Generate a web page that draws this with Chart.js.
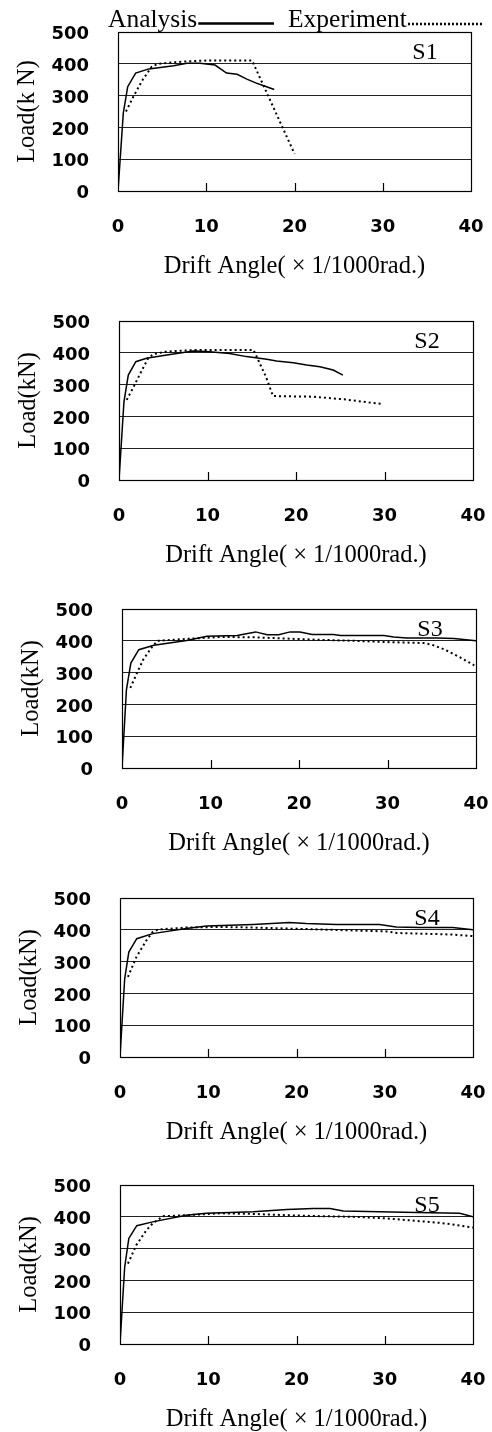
<!DOCTYPE html>
<html>
<head>
<meta charset="utf-8">
<script src="https://cdn.jsdelivr.net/npm/chart.js@4.4.1/dist/chart.umd.min.js"></script>
<style>
  html, body { margin: 0; padding: 0; background: #fff; overflow: hidden; }
  body { width: 492px; height: 1432px; position: relative; }
  .panel { position: absolute; left: 0; width: 492px; height: 280px; }
</style>
</head>
<body>
<script>
// ---- data ----
const specimens = ['S1', 'S2', 'S3', 'S4', 'S5'];
const loadTitles = ['Load(k N)', 'Load(kN)', 'Load(kN)', 'Load(kN)', 'Load(kN)'];
const driftTitle = 'Drift Angle( × 1/1000rad.)';
const seriesNames = ['Analysis', 'Experiment'];
const xTicks = [0, 10, 20, 30, 40];
const yTicks = [0, 100, 200, 300, 400, 500];

// [drift angle, load] pairs
const s1Analysis = [[0, 0], [0.6, 245], [1.1, 328], [2.0, 371], [3.5, 384], [6.3, 394], [7.8, 402], [9.3, 402], [11.0, 396], [12.3, 371], [13.5, 367], [14.6, 352], [15.6, 340], [16.6, 330], [17.7, 319]];
const s1Experiment = [[0.9, 250], [1.8, 300], [2.8, 350], [3.8, 390], [4.5, 400], [6, 404], [8, 408], [10, 410], [15.2, 410], [20, 117]];

const s2Analysis = [[0, 0], [0.56, 246], [1.05, 330], [1.9, 372], [3.1, 383], [5.4, 393], [8.4, 406], [9.9, 404], [12.5, 398], [14.4, 388], [16.7, 380], [17.8, 374], [19.7, 369], [21.2, 362], [22.7, 356], [24.2, 346], [25.3, 330]];
const s2Experiment = [[0.87, 252], [1.6, 290], [2.4, 335], [3.3, 383], [3.9, 396], [5.4, 404], [8.8, 409], [15.2, 409], [16.6, 325], [17.4, 264], [21.9, 262], [25.3, 254], [29.7, 239]];

const s3Analysis = [[0, 0], [0.5, 246], [1.0, 330], [1.9, 372], [3.6, 386], [7.3, 401], [9.6, 414], [13.0, 417], [15.1, 428], [16.4, 419], [17.7, 419], [19.0, 428], [20.1, 428], [21.5, 420], [23.9, 420], [24.7, 417], [29.6, 417], [30.7, 412], [32.2, 409], [35.6, 409], [37.5, 407], [40, 400]];
const s3Experiment = [[0.94, 252], [1.7, 299], [2.4, 341], [3.4, 381], [4.0, 400], [7.3, 406], [11.1, 412], [14.8, 411], [18.6, 407], [22.4, 403], [26.2, 400], [30.0, 396], [34.1, 393], [35, 388], [36.5, 372], [38.2, 348], [39.8, 323]];

const s4Analysis = [[0, 0], [0.53, 246], [1.0, 330], [1.9, 372], [3.7, 388], [7.5, 404], [9.8, 412], [15.1, 417], [19.2, 423], [21.1, 420], [24.5, 417], [29.4, 417], [31.3, 409], [34.0, 407], [37.7, 407], [40, 400]];
const s4Experiment = [[0.9, 252], [1.85, 314], [3.0, 367], [3.7, 393], [4.3, 401], [7.5, 407], [11.3, 409], [15.1, 407], [18.9, 404], [22.7, 401], [26.4, 398], [30.2, 395], [31.3, 390], [34, 388], [37.7, 385], [40, 380]];

const s5Analysis = [[0, 0], [0.53, 242], [1.0, 332], [1.9, 372], [3.7, 384], [7.5, 405], [9.8, 411], [15.1, 416], [18.9, 423], [21.9, 426], [23.8, 426], [25.3, 418], [32.1, 414], [38.5, 411], [40, 400]];
const s5Experiment = [[0.9, 253], [1.85, 311], [3.0, 358], [3.7, 379], [4.9, 402], [7.5, 405], [11.3, 411], [15.1, 409], [18.9, 405], [22.6, 402], [26.4, 400], [30.2, 395], [32.8, 389], [36.2, 381], [37.7, 376], [40, 366]];

const analysisSets = [s1Analysis, s2Analysis, s3Analysis, s4Analysis, s5Analysis];
const experimentSets = [s1Experiment, s2Experiment, s3Experiment, s4Experiment, s5Experiment];

// ---- layout ----
const SERIF = "'Liberation Serif', 'Times New Roman', serif";
const SANS = "'DejaVu Sans', sans-serif";
const PANEL_H = 280;
const PLOT_TOP = 32;
const PLOT_H = 159;
const panels = [
    { top: 0, left: 118, right: 471 },
    { top: 289, left: 119, right: 473 },
    { top: 577, left: 122, right: 476 },
    { top: 866, left: 120, right: 473 },
    { top: 1153, left: 120, right: 473 },
];

const toPoints = (pairs) => pairs.map(([x, y]) => ({ x, y }));

const framePlugin = {
    id: 'frame',
    afterDatasetsDraw(chart, args, opts) {
        const { ctx, chartArea: a } = chart;
        const xs = chart.scales.x;
        ctx.save();
        ctx.strokeStyle = '#000';
        ctx.lineWidth = 1.2;
        ctx.strokeRect(Math.round(a.left) + 0.5, Math.round(a.top) + 0.5, Math.round(a.right - a.left), Math.round(a.bottom - a.top));

        // short inner tick marks on the bottom edge
        xTicks.slice(1, -1).forEach((v) => {
            const px = Math.round(xs.getPixelForValue(v)) + 0.5;
            ctx.beginPath();
            ctx.moveTo(px, a.bottom);
            ctx.lineTo(px, a.bottom - 8);
            ctx.stroke();
        });

        ctx.font = `24px ${SERIF}`;
        ctx.fillStyle = '#000';
        ctx.textAlign = 'center';
        ctx.textBaseline = 'middle';
        ctx.fillText(opts.name, a.right - 46, a.top + 21);
        ctx.restore();
    },
};

const legendPlugin = {
    id: 'topLegend',
    afterDraw(chart) {
        const { ctx } = chart;
        ctx.save();
        ctx.font = `25.5px ${SERIF}`;
        ctx.fillStyle = '#000';
        ctx.textBaseline = 'alphabetic';
        ctx.textAlign = 'left';

        ctx.fillText(seriesNames[0], 108, 27);
        const aEnd = 108 + ctx.measureText(seriesNames[0]).width;
        ctx.strokeStyle = '#000';
        ctx.lineWidth = 2.5;
        ctx.beginPath();
        ctx.moveTo(aEnd + 1, 23.5);
        ctx.lineTo(274, 23.5);
        ctx.stroke();

        ctx.fillText(seriesNames[1], 288, 27);
        const eEnd = 288 + ctx.measureText(seriesNames[1]).width;
        ctx.setLineDash([2, 2]);
        ctx.beginPath();
        ctx.moveTo(eEnd + 1, 24);
        ctx.lineTo(482, 24);
        ctx.stroke();
        ctx.restore();
    },
};

panels.forEach((p, i) => {
    const box = document.createElement('div');
    box.className = 'panel';
    box.style.top = `${p.top}px`;
    const canvas = document.createElement('canvas');
    canvas.width = 492;
    canvas.height = PANEL_H;
    box.appendChild(canvas);
    document.body.appendChild(box);

    const tickFont = { family: SANS, size: 18, weight: 'bold' };
    const titleFont = { family: SERIF, size: 24.5, lineHeight: 1 };

    new Chart(canvas, {
        type: 'line',
        data: {
            datasets: [
                {
                    label: seriesNames[0],
                    data: toPoints(analysisSets[i]),
                    borderColor: '#000',
                    borderWidth: 1.5,
                    pointRadius: 0,
                    tension: 0,
                    fill: false,
                },
                {
                    label: seriesNames[1],
                    data: toPoints(experimentSets[i]),
                    borderColor: '#000',
                    borderWidth: 2,
                    borderDash: [2, 3],
                    pointRadius: 0,
                    tension: 0,
                    fill: false,
                },
            ],
        },
        options: {
            responsive: false,
            animation: false,
            events: [],
            layout: {
                padding: { top: PLOT_TOP, left: 0, right: 492 - p.right, bottom: 0 },
            },
            scales: {
                x: {
                    type: 'linear',
                    min: 0,
                    max: 40,
                    afterBuildTicks: (s) => { s.ticks = xTicks.map((v) => ({ value: v })); },
                    afterFit: (s) => {
                        s.height = PANEL_H - PLOT_TOP - PLOT_H;
                        s.paddingLeft = 0;
                        s.paddingRight = 0;
                    },
                    grid: { display: false, drawTicks: false },
                    border: { display: false },
                    ticks: { font: tickFont, color: '#000', padding: 26, maxRotation: 0, autoSkip: false },
                    title: {
                        display: true,
                        text: driftTitle,
                        color: '#000',
                        font: titleFont,
                        padding: { top: 0, bottom: 1.5 },
                    },
                },
                y: {
                    min: 0,
                    max: 500,
                    afterBuildTicks: (s) => { s.ticks = yTicks.map((v) => ({ value: v })); },
                    afterFit: (s) => {
                        s.width = p.left;
                        s.paddingTop = 0;
                        s.paddingBottom = 0;
                    },
                    grid: { color: '#222', lineWidth: 1, drawTicks: false },
                    border: { display: false },
                    ticks: { font: tickFont, color: '#000', padding: 29, labelOffset: 2.5 },
                    title: {
                        display: true,
                        text: loadTitles[i],
                        color: '#000',
                        font: titleFont,
                        padding: { top: p.left - 103, bottom: 0 },
                    },
                },
            },
            plugins: {
                legend: { display: false },
                tooltip: { enabled: false },
                frame: { name: specimens[i] },
            },
        },
        plugins: i === 0 ? [framePlugin, legendPlugin] : [framePlugin],
    });
});
</script>
</body>
</html>
